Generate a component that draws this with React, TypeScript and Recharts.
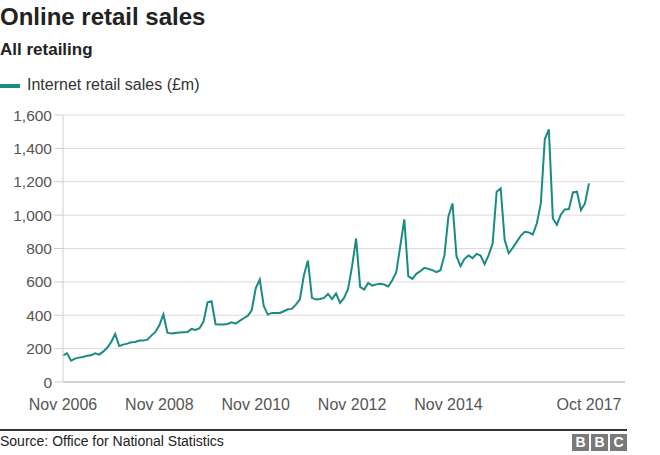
import { LineChart, Line, XAxis, YAxis, CartesianGrid } from 'recharts'

// Internet retail sales (£m), monthly, Nov 2006 – Oct 2017
const sales2006 = [160, 172]
const sales2007 = [128, 140, 146, 150, 158, 160, 172, 164, 182, 205, 240, 288]
const sales2008 = [216, 224, 230, 238, 240, 248, 248, 254, 278, 300, 340, 405]
const sales2009 = [295, 290, 294, 296, 298, 300, 318, 312, 322, 362, 478, 484]
const sales2010 = [346, 344, 345, 348, 358, 350, 366, 382, 396, 430, 562, 614]
const sales2011 = [455, 404, 414, 414, 414, 424, 436, 438, 464, 496, 640, 728]
const sales2012 = [504, 494, 497, 504, 528, 497, 530, 474, 504, 558, 694, 860]
const sales2013 = [570, 554, 594, 578, 585, 588, 584, 572, 610, 658, 814, 975]
const sales2014 = [634, 618, 648, 664, 684, 678, 670, 658, 670, 760, 994, 1070]
const sales2015 = [754, 694, 738, 758, 742, 768, 758, 706, 760, 830, 1140, 1160]
const sales2016 = [850, 772, 804, 840, 876, 900, 896, 884, 950, 1070, 1456, 1514]
const sales2017 = [980, 942, 1004, 1034, 1036, 1136, 1140, 1030, 1070, 1190]

const salesValues = [
  ...sales2006, ...sales2007, ...sales2008, ...sales2009, ...sales2010, ...sales2011,
  ...sales2012, ...sales2013, ...sales2014, ...sales2015, ...sales2016, ...sales2017,
]

const monthNames = ['Jan', 'Feb', 'Mar', 'Apr', 'May', 'Jun', 'Jul', 'Aug', 'Sep', 'Oct', 'Nov', 'Dec']
const tickLabels = ['Nov 2006', 'Nov 2008', 'Nov 2010', 'Nov 2012', 'Nov 2014', 'Oct 2017']
const yTicks = [0, 200, 400, 600, 800, 1000, 1200, 1400, 1600]

// month categories starting Nov 2006
const months = salesValues.map((_, i) => {
  const m = (10 + i) % 12
  const y = 2006 + Math.floor((10 + i) / 12)
  return `${monthNames[m]} ${y}`
})

const data = salesValues.map((v, i) => ({ month: months[i], sales: v }))

const teal = '#1a8a84'
const font = '"Liberation Sans", Arial, Helvetica, sans-serif'

export default function App() {
  return (
    <div style={{ position: 'absolute', left: 0, top: 0, width: 660, height: 455, background: '#fff', fontFamily: font, color: '#222' }}>
      <div style={{ position: 'absolute', left: 0, top: 5, fontSize: 24, lineHeight: '24px', fontWeight: 'bold' }}>
        Online retail sales
      </div>
      <div style={{ position: 'absolute', left: 0, top: 41, fontSize: 17, lineHeight: '17px', fontWeight: 'bold' }}>
        All retailing
      </div>
      <div style={{ position: 'absolute', left: 0, top: 83.5, width: 20, height: 4, background: teal }} />
      <div style={{ position: 'absolute', left: 27, top: 77, fontSize: 16, lineHeight: '16px', color: '#333' }}>
        Internet retail sales (£m)
      </div>

      <div style={{ position: 'absolute', left: 0, top: 100 }}>
        <LineChart width={660} height={320} data={data} margin={{ top: 15, right: 35, bottom: 8, left: 0 }}>
          <CartesianGrid vertical={false} stroke="#dcdcdc" />
          <XAxis
            dataKey="month"
            interval={0}
            tickLine={false}
            tickSize={8}
            tickMargin={9}
            height={30}
            padding={{ left: 0, right: 36 }}
            axisLine={{ stroke: '#b5b5b5' }}
            tick={{ fill: '#555', fontSize: 16, fontFamily: font }}
            tickFormatter={(m: string) => (tickLabels.includes(m) ? m : '')}
          />
          <YAxis
            width={63}
            domain={[0, 1600]}
            ticks={yTicks}
            interval={0}
            tickSize={9}
            tickMargin={2}
            axisLine={{ stroke: '#d0d0d0' }}
            tickLine={{ stroke: '#d0d0d0' }}
            tick={{ fill: '#555', fontSize: 15.5, fontFamily: font }}
            tickFormatter={(v: number) => v.toLocaleString('en-GB')}
          />
          <Line
            type="linear"
            dataKey="sales"
            stroke={teal}
            strokeWidth={2}
            dot={false}
            isAnimationActive={false}
          />
        </LineChart>
      </div>

      <div style={{ position: 'absolute', left: 0, top: 429, width: 627, height: 1.5, background: '#333' }} />
      <div style={{ position: 'absolute', left: 0, top: 434, fontSize: 14, lineHeight: '14px', color: '#222' }}>
        Source: Office for National Statistics
      </div>
      <div style={{ position: 'absolute', left: 572, top: 434, display: 'flex', gap: 2 }}>
        {['B', 'B', 'C'].map((ch, i) => (
          <div
            key={i}
            style={{
              width: 17,
              height: 17,
              background: '#7a7a7a',
              color: '#fff',
              fontWeight: 'bold',
              fontSize: 14,
              lineHeight: '17px',
              textAlign: 'center',
            }}
          >
            {ch}
          </div>
        ))}
      </div>
    </div>
  )
}
